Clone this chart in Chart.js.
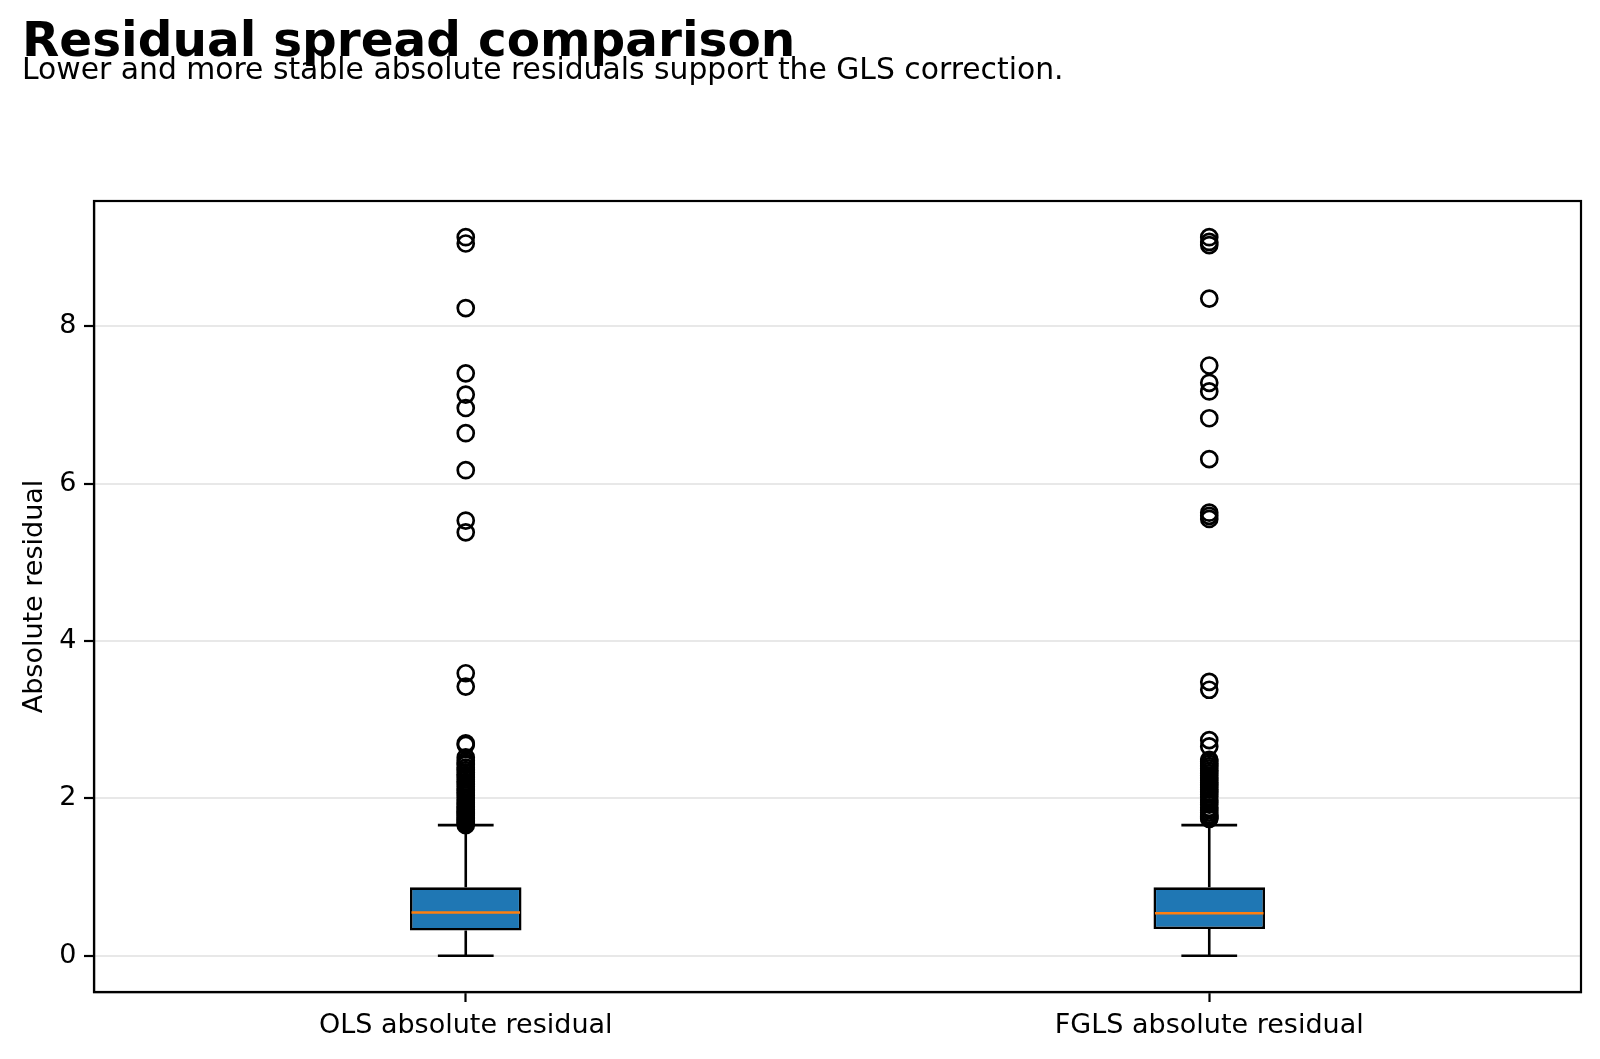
<!DOCTYPE html>
<html>
<head>
<meta charset="utf-8">
<script src="https://cdn.jsdelivr.net/npm/chart.js@4.4.1/dist/chart.umd.min.js"></script>
<style>
  html, body { margin: 0; padding: 0; background: #fff; }
  #wrap { width: 1600px; height: 1059px; position: relative; }
</style>
</head>
<body>
<div id="wrap"><canvas id="myChart" width="1600" height="1059"></canvas></div>
<script>
// categories and box statistics
const categories = ['OLS absolute residual', 'FGLS absolute residual'];
const whiskerLow = [0.0, 0.0];
const q1 = [0.32, 0.34];
const medians = [0.55, 0.54];
const q3 = [0.87, 0.87];
const whiskerHigh = [1.66, 1.66];

// outliers per group
const olsOutliers = [1.66, 1.68, 1.70, 1.72, 1.74, 1.76, 1.78, 1.80, 1.82, 1.84, 1.86, 1.88, 1.90,
    1.93, 1.95, 1.98, 2.01, 2.04, 2.07, 2.10, 2.12, 2.15, 2.18, 2.21, 2.24, 2.27, 2.30, 2.33,
    2.36, 2.39, 2.43, 2.45, 2.48, 2.52, 2.68, 2.70, 3.42, 3.59, 5.38, 5.53,
    6.17, 6.64, 6.96, 7.13, 7.40, 8.23, 9.05, 9.13];
const fglsOutliers = [1.74, 1.75, 1.77, 1.79, 1.82, 1.85, 1.88, 1.92, 1.95, 1.98, 2.02, 2.05, 2.08,
    2.11, 2.14, 2.17, 2.20, 2.23, 2.26, 2.29, 2.32, 2.35, 2.38, 2.41, 2.44, 2.47, 2.49, 2.66,
    2.74, 3.38, 3.48, 5.55, 5.59, 5.63, 6.31, 6.83, 7.17, 7.28, 7.50, 8.35, 9.03, 9.07, 9.13];

const yTicks = [0, 2, 4, 6, 8];
const xTicks = [1, 2];

const FONT = "'DejaVu Sans', sans-serif";

// whiskers, caps and median lines, drawn through the scales after the boxes
const boxLines = {
    id: 'boxLines',
    afterDatasetDraw(chart, args) {
        if (args.index !== 0) return;
        const { ctx, scales: { x, y } } = chart;
        ctx.save();
        ctx.lineWidth = 2.6;
        ctx.strokeStyle = '#000';
        categories.forEach((c, i) => {
            const pos = xTicks[i];
            const cx = x.getPixelForValue(pos);
            const capL = x.getPixelForValue(pos - 0.0375);
            const capR = x.getPixelForValue(pos + 0.0375);
            ctx.beginPath();
            ctx.moveTo(cx, y.getPixelForValue(q1[i]));
            ctx.lineTo(cx, y.getPixelForValue(whiskerLow[i]));
            ctx.moveTo(cx, y.getPixelForValue(q3[i]));
            ctx.lineTo(cx, y.getPixelForValue(whiskerHigh[i]));
            ctx.moveTo(capL, y.getPixelForValue(whiskerLow[i]));
            ctx.lineTo(capR, y.getPixelForValue(whiskerLow[i]));
            ctx.moveTo(capL, y.getPixelForValue(whiskerHigh[i]));
            ctx.lineTo(capR, y.getPixelForValue(whiskerHigh[i]));
            ctx.stroke();
            // median
            ctx.beginPath();
            ctx.strokeStyle = '#ff7f0e';
            ctx.moveTo(x.getPixelForValue(pos - 0.075) + 1.5, y.getPixelForValue(medians[i]));
            ctx.lineTo(x.getPixelForValue(pos + 0.075) - 1.5, y.getPixelForValue(medians[i]));
            ctx.stroke();
            ctx.strokeStyle = '#000';
        });
        ctx.restore();
    }
};

// frame around the plot area plus the title block
const frameAndTitle = {
    id: 'frameAndTitle',
    afterDraw(chart) {
        const { ctx, chartArea: a } = chart;
        ctx.save();
        ctx.strokeStyle = '#000';
        ctx.lineWidth = 2.2;
        ctx.strokeRect(a.left, a.top, a.right - a.left, a.bottom - a.top);
        ctx.fillStyle = '#000';
        ctx.textAlign = 'left';
        ctx.textBaseline = 'alphabetic';
        ctx.font = 'bold 48.5px ' + FONT;
        ctx.fillText('Residual spread comparison', 22, 56);
        ctx.font = '29.8px ' + FONT;
        ctx.fillText('Lower and more stable absolute residuals support the GLS correction.', 22, 79);
        ctx.restore();
    }
};

const ctx = document.getElementById('myChart').getContext('2d');
new Chart(ctx, {
    data: {
        datasets: [
            {
                type: 'bar',
                label: 'IQR',
                data: categories.map((c, i) => ({ x: xTicks[i], y: [q1[i], q3[i]] })),
                backgroundColor: '#1f77b4',
                borderColor: '#000',
                borderWidth: 2.6,
                borderSkipped: false,
                categoryPercentage: 1,
                barPercentage: 0.15,
            },
            {
                type: 'scatter',
                label: 'OLS outliers',
                data: olsOutliers.map(v => ({ x: xTicks[0], y: v })),
                pointRadius: 8,
                pointBorderWidth: 2.7,
                pointBackgroundColor: 'rgba(0,0,0,0)',
                pointBorderColor: '#000',
            },
            {
                type: 'scatter',
                label: 'FGLS outliers',
                data: fglsOutliers.map(v => ({ x: xTicks[1], y: v })),
                pointRadius: 8,
                pointBorderWidth: 2.7,
                pointBackgroundColor: 'rgba(0,0,0,0)',
                pointBorderColor: '#000',
            },
        ],
    },
    options: {
        responsive: false,
        animation: false,
        layout: { padding: { top: 201, right: 19, left: 0, bottom: 0 } },
        plugins: {
            legend: { display: false },
            tooltip: { enabled: false },
            title: { display: false },
        },
        scales: {
            x: {
                type: 'linear',
                min: 0.5,
                max: 2.5,
                offset: false,
                afterBuildTicks: (scale) => { scale.ticks = xTicks.map(v => ({ value: v })); },
                afterFit: (scale) => { scale.height = 67; },
                ticks: {
                    autoSkip: false,
                    maxRotation: 0,
                    padding: 8,
                    color: '#000',
                    font: { family: FONT, size: 27 },
                    callback: (v) => categories[xTicks.indexOf(v)] || '',
                },
                grid: { offset: false, drawOnChartArea: false, tickColor: '#000', tickLength: 10, tickWidth: 2.2 },
                border: { color: '#000', width: 2.2 },
            },
            y: {
                type: 'linear',
                min: -0.46,
                max: 9.59,
                afterBuildTicks: (scale) => { scale.ticks = yTicks.map(v => ({ value: v })); },
                afterFit: (scale) => { scale.width = 94; },
                ticks: {
                    padding: 7.5,
                    color: '#000',
                    font: { family: FONT, size: 27 },
                },
                grid: { color: '#e8e8e8', lineWidth: 2, tickColor: '#000', tickLength: 10, tickWidth: 2.2 },
                border: { color: '#000', width: 2.2 },
                title: {
                    display: true,
                    text: 'Absolute residual',
                    color: '#000',
                    font: { family: FONT, size: 27 },
                    padding: { top: 19, bottom: 0 },
                },
            },
        },
    },
    plugins: [boxLines, frameAndTitle],
});
</script>
</body>
</html>
